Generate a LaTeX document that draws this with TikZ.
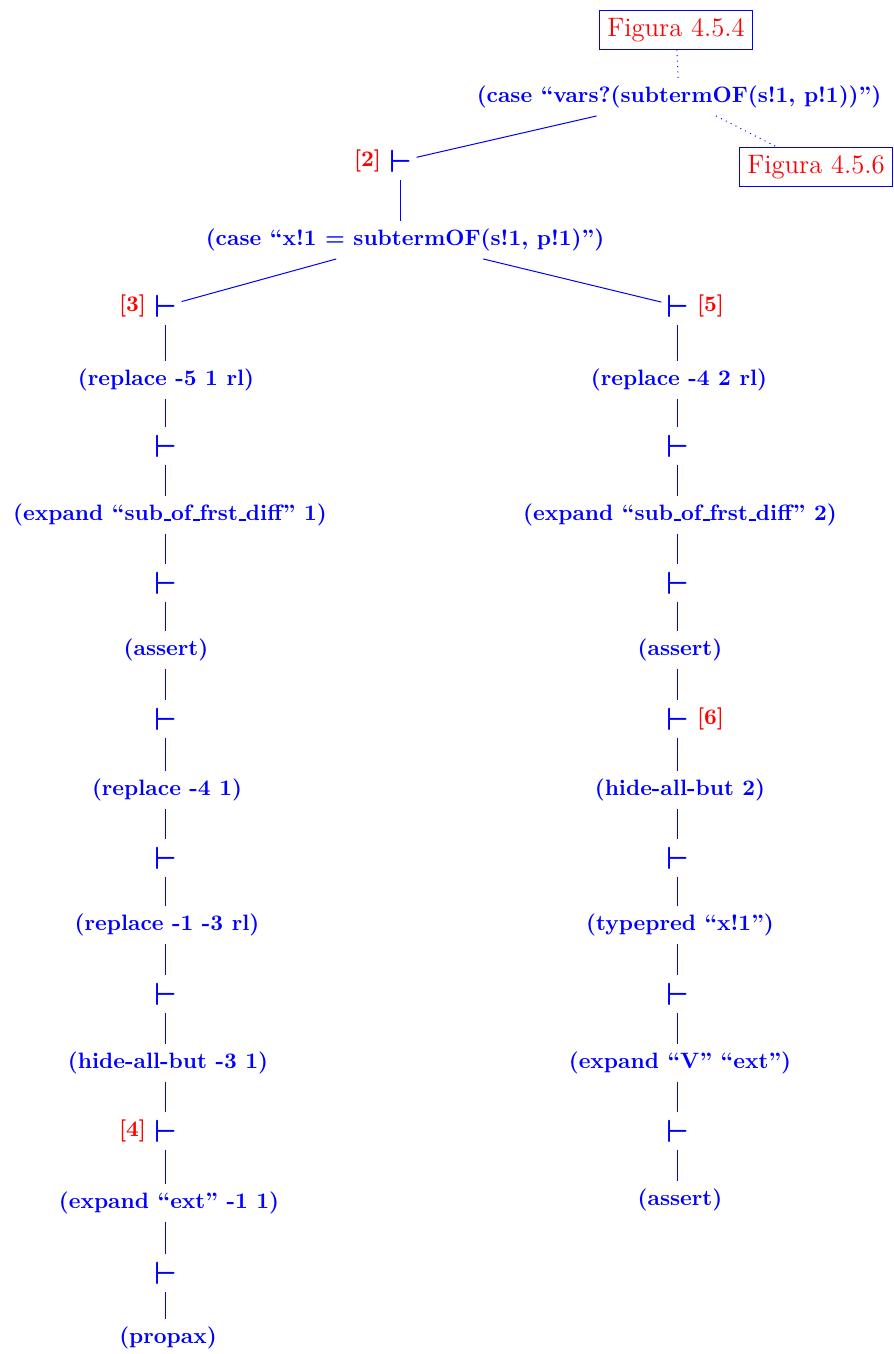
\documentclass[tikz,border=0pt]{standalone}
\newcommand\usc{\leavevmode\kern.06em\vbox{\hrule width.3em height .5pt}}
\begin{document}
\begin{tikzpicture}[x=0.45pt,y=-0.45pt,
  txt/.style={text=blue,font=\bfseries},
  vd/.style={text=blue,font=\Large\boldmath,inner xsep=2pt},
  fig/.style={draw=blue,text=red,font=\large,line width=0.45pt},
  lb/.style={text=red,font=\bfseries},
  ln/.style={draw=blue,line width=0.45pt},
  dl/.style={draw=blue,dotted,line width=0.45pt},
  label distance=-2pt]
\useasboundingbox (0,0) rectangle (894,1354);
\node[fig] (f1) at (676,30) {Figura 4.5.4};
\node[txt] (r) at (679,97) {(case ``vars?(subtermOF(s!1, p!1))'')};
\node[fig] (f2) at (816,167) {Figura 4.5.6};
\node[vd,label={[lb]left:[2]}] (v2) at (400.5,161) {$\vdash$};
\node[txt] (c) at (405,240) {(case ``x!1 = subtermOF(s!1, p!1)'')};
% left branch
\node[vd,label={[lb]left:[3]}] (v3) at (165.5,306) {$\vdash$};
\node[txt] (a1) at (166,380) {(replace -5 1 rl)};
\node[vd] (v3a) at (165.5,446) {$\vdash$};
\node[txt] (a2) at (170,515) {(expand ``sub\usc of\usc frst\usc diff'' 1)};
\node[vd] (v3b) at (165.5,583) {$\vdash$};
\node[txt] (a3) at (166,650) {(assert)};
\node[vd] (v3c) at (165.5,719) {$\vdash$};
\node[txt] (a4) at (167,790) {(replace -4 1)};
\node[vd] (v3d) at (165.5,858) {$\vdash$};
\node[txt] (a5) at (167,925) {(replace -1 -3 rl)};
\node[vd] (v3e) at (165.5,994) {$\vdash$};
\node[txt] (a6) at (168,1063) {(hide-all-but -3 1)};
\node[vd,label={[lb]left:[4]}] (v4) at (165.5,1131) {$\vdash$};
\node[txt] (a7) at (169,1203) {(expand ``ext'' -1 1)};
\node[vd] (v4a) at (165.5,1273) {$\vdash$};
\node[txt] (a8) at (168,1338) {(propax)};
% right branch
\node[vd,label={[lb]right:[5]}] (v5) at (677.5,306) {$\vdash$};
\node[txt] (b1) at (679,380) {(replace -4 2 rl)};
\node[vd] (v5a) at (677.5,446) {$\vdash$};
\node[txt] (b2) at (680,515) {(expand ``sub\usc of\usc frst\usc diff'' 2)};
\node[vd] (v5b) at (677.5,583) {$\vdash$};
\node[txt] (b3) at (680,650) {(assert)};
\node[vd,label={[lb]right:[6]}] (v6) at (677.5,719) {$\vdash$};
\node[txt] (b4) at (680,790) {(hide-all-but 2)};
\node[vd] (v6a) at (677.5,858) {$\vdash$};
\node[txt] (b5) at (680,925) {(typepred ``x!1'')};
\node[vd] (v6b) at (677.5,994) {$\vdash$};
\node[txt] (b6) at (680,1063) {(expand ``V'' ``ext'')};
\node[vd] (v6c) at (677.5,1131) {$\vdash$};
\node[txt] (b7) at (680,1200) {(assert)};
% connectors
\draw[dl] (f1) -- (r);
\draw[dl] (r) -- (f2);
\draw[ln] (r) -- (v2);
\draw[ln] (v2) -- (v2 |- c.north);
\draw[ln] (c) -- (v3);
\draw[ln] (c) -- (v5);
\foreach \p/\q in {v3/a1,v3a/a2,v3b/a3,v3c/a4,v3d/a5,v3e/a6,v4/a7,v4a/a8,
  v5/b1,v5a/b2,v5b/b3,v6/b4,v6a/b5,v6b/b6,v6c/b7}
  \draw[ln] (\p) -- (\p |- \q.north);
\foreach \p/\q in {a1/v3a,a2/v3b,a3/v3c,a4/v3d,a5/v3e,a6/v4,a7/v4a,
  b1/v5a,b2/v5b,b3/v6,b4/v6a,b5/v6b,b6/v6c}
  \draw[ln] (\q |- \p.south) -- (\q);
\end{tikzpicture}
\end{document}
